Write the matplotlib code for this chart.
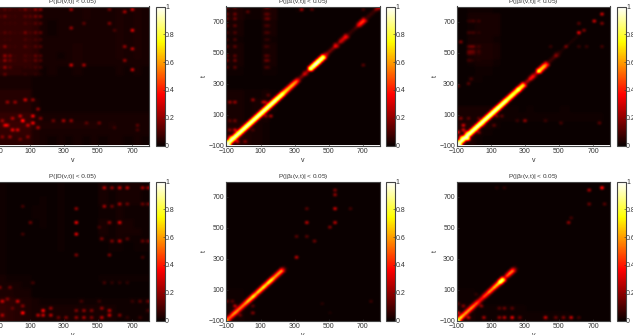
import matplotlib
matplotlib.use("Agg")
import matplotlib.pyplot as plt
import numpy as np

plt.rcParams['font.family'] = ['Liberation Sans', 'DejaVu Sans']
plt.rcParams['mathtext.fontset'] = 'custom'
plt.rcParams['mathtext.rm'] = 'Liberation Sans'
plt.rcParams['mathtext.it'] = 'Liberation Sans'

titles = ["P(|D(v,t)| < 0.05)", "P(|\u03b2$_1$(v,t)| < 0.05)", "P(|\u03b2$_2$(v,t)| < 0.05)"]
axis_ticks = [-100, 100, 300, 500, 700]
bar_ticks = [0, 0.2, 0.4, 0.6, 0.8, 1]
bar_labels = ["0", "0.2", "0.4", "0.6", "0.8", "1"]

# diagonal cells, v = -100, -80, ... 780
diag_top_mid = [1, 1, 1, 1, 1, 1, 1, 1, 1, 1, 1, 1, 1, 1, 1, 1, .9, .85, .8, .75, .65, .25, .45, .3, .9, 1, 1, .9,
                .5, .3, .25, .5, .2, .4, .5, .15, .1, .15, .45, .55, .12, .1, .1, .3, .45]
side_top_mid = [.9, .9, .9, .9, .9, .9, .9, .9, .9, .9, .9, .9, .9, .9, .85, .8, .6, .55, .5, .45, .3,
                .05, .2, .05, .95, 1, 1, .95, .2, .05, .05, .3, .05, .2, .3, .03, .02, .03, .3, .35, .03, .03, .03,
                .12, .12]
diag_top_right = [1, 1, 1, 1, 1, 1, 1, 1, 1, 1, 1, 1, 1, 1, .95, .95, .9, .95, .85, .35, .35, .55, .3, .9, .75, .6,
                  .15, .12, .3, .1, .05, .05, .05, .05, .05, .03, 0, 0, 0, 0, 0, 0, 0, 0, 0]
side_top_right = [.9, .9, .9, .9, .9, .9, .9, .9, .9, .9, .9, .9, .85, .85, .75, .75, .7, .85, .65, .08,
                  .08, .2, .08, .75, .6, .45, .03, .03, .1, .02, 0, 0, 0, 0, 0, 0, 0, 0, 0, 0, 0, 0, 0, 0, 0]
diag_low_mid = [.7, .75, .8, .75, .75, .8, .9, 1, .85, .95, 1, .9, 1, .85, .8, .8, .25]
side_low_mid = [.3, .35, .4, .35, .35, .4, .45, .5, .4, .45, .5, .45, .5, .4, .4, .4, .05]
diag_low_right = [1, .85, .85, .8, .75, .7, .55, .65, .65, .8, .9, .9, 1, .45, .7, .75, .25]
side_low_right = [.4, .35, .35, .35, .3, .3, .2, .3, .3, .35, .4, .45, .8, .15, .3, .35, .05]

# coarse background, one row per 50 t from 800 down, one digit per 50 v (digit * 0.01)
back_top_left = ["666652222232223232", "666652222232223232", "666652122222223232", "666652122222223232",
                 "666652222222223232", "666652222322223232", "666652212322223232", "666652222322222222",
                 "555441211211112121", "222211111111111111", "222211111111111111", "444411111111111111",
                 "444421111111111111", "444421111111111111", "666632222222222222", "777743333333232222",
                 "666632222222222222", "555532121212122121"]
back_top_mid = ["331133001000000000", "331133000000000000", "220022000000000000", "220022000000000000",
                "110011000000000000", "220022000000000000", "220022000000000000", "220022000000000000",
                "110011000000000000", "000000000000000000", "000000000000000000", "221121000000000000",
                "221221000000000000", "221221000000000000", "221220000000000000", "333210000000000000",
                "443210000000000000", "443210000000000000"]
back_top_right = ["011100000000000000", "022220000000000000", "012220000000000000", "012220000000000000",
                  "022210000000000000", "023320000000000000", "023320000000000000", "012210000000000000",
                  "001100000000000000", "011000000000000000", "000000000000000000", "000000000000000000",
                  "000000000000000000", "222221101000100000", "222211111111111110", "332210000000000000",
                  "442100000000000000", "331000000000000000"]
back_low_left = ["100000010000212221", "100000010000212221", "100001010000212221", "100011010000112111",
                 "100011010000112111", "100001010000212211", "100000010000212221", "100000010000112111",
                 "100000010000011011", "100000000000000000", "100000000000000000", "100000000000000000",
                 "211100000000111111", "222100000000000000", "332200000000000000", "554321111111111111",
                 "654322222222221111", "654322222222221111"]
back_low_mid = ["000000000000000000"] * 14 + ["110000000000000000", "110000000000000000", "221000000000000000",
                                             "221000000000000000"]
back_low_right = ["000000000000000000"] * 14 + ["110000000000000000", "110000000000000000", "221111110000000000",
                                               "221111111111100000"]

# streak tables: strength at every crossing of a v column and a t row (digit * 0.04)
streak_top_left_v = [-80, -47, -20, 10, 40, 71, 100, 130, 155]
streak_top_left_t = [780, 725, 680, 627, 580, 530, 480, 440, 400, 360]
streak_top_left = ["243236388", "352214466", "122213244", "243226355", "122113233",
                   "272214244", "186213254", "285213254", "284112233", "151102121"]
streak_top_mid_v = [-86, -51, 125, 151]
streak_top_mid_t = [790, 750, 710, 670, 630, 580, 530, 480, 440, 400]
streak_top_mid = ["6666", "5644", "5645", "4533", "3433", "3422", "4532", "5543", "6654", "4533"]
streak_top_right_v = [-37, -17, 2, 31]
streak_top_right_t = [696, 627, 530, 509, 487, 444]
streak_top_right = ["2233", "3232", "4553", "4443", "4332", "3211"]

# single cells
spot_top_left_v = [345, 570, 570, 655, 708, 708, 345, 653, 704, 345, 414, 653, 704, 414, 590,
                   61, 120, 110, 2, 32, -47, -27, 71, 12, -27, 120, 140, 169, 2, 42, 91, 140, -66, -17, -66, 42, 91,
                   238, 296, 336, 434, 502, 590, 728, 737]
spot_top_left_t = [780, 780, 692, 768, 780, 638, 653, 530, 520, 411, 422, 444, 386, 690, 640,
                   55, 88, 49, -9, -9, 23, 27, 185, 174, 174, 196, 130, 77, 77, 88, 23, 12, 55, -52, -52, -63, -52,
                   55, 62, 55, 49, 49, 12, 34, -9]
spot_top_left_p = [.4, .25, .3, .4, .5, .55, .35, .35, .45, .5, .4, .35, .5, .2, .15,
                   .75, .6, .6, .55, .5, .5, .45, .5, .35, .35, .35, .35, .3, .4, .45, .45, .4, .35, .35, .3, .25, .3,
                   .25, .4, .35, .2, .25, .12, .2, .15]

spot_top_mid_v = [33, 341, 400, 708, 708, -84, -51, 53, 112, 135, 151, 155, 125, 116, -80, -41, -12, 18, -41, -31,
                  -71, 18, 57, -80, -51]
spot_top_mid_t = [768, 778, 778, 412, 778, 178, 178, 185, 174, 178, 217, 88, 88, 120, -9, 1, -31, -9, -63, -85,
                  -42, -74, -9, 55, 55]
spot_top_mid_p = [.2, .4, .2, .2, .15, .35, .35, .35, .4, .35, .2, .4, .3, .25, .3, .5, .6, .3, .5, .5,
                  .4, .3, .15, .2, .25]

spot_top_right_v = [613, 649, 708, 753, 753, 606, 535, 453, 610, 659, 747, -76, -86, -37, -17,
                    296, 247, 423, 502, 727, 31, 80, 129, 159, 110, 61, -76, -37, -67, -86, -47, -76, -27, -57, 27]
spot_top_right_t = [621, 649, 703, 746, 692, 681, 530, 535, 535, 535, 535, 567, 282, 304, 325,
                    62, 62, 55, 49, 45, 77, 77, 83, 83, 34, 23, 66, 66, 23, -20, -20, -52, -63, -9, -16]
spot_top_right_p = [.6, .3, .5, .5, .3, .2, .3, .12, .12, .12, .15, .3, .2, .2, .15,
                    .35, .12, .12, .15, .2, .2, .25, .25, .2, .2, .15, .3, .2, .5, .5, .4, .6, .9, .5, .3]

spot_low_left_v = [371, 371, 371, 371, 100, 51, 61,
                   532, 581, 626, 673, 757, 790, 532, 581, 626, 673, 757, 786, 567, 626, 508, 528, 577, 626, 673,
                   757, 786, 571, 757, 532, 581, 630, 679,
                   -66, -27, 22, -76, -17, 110, 61, 51, -66, 2, 183, 228, 149, 183, 218, 267, 316, 365, 365, 414,
                   414, 463, 469, 522, 522, 571, 571, 620, 404, 502, 698, 747, 786, 669, 747, 786]
spot_low_left_t = [537, 455, 632, 321, 541, 638, 465,
                   761, 761, 761, 761, 761, 761, 649, 649, 653, 653, 660, 660, 541, 541, 513, 429, 422, 422, 429,
                   416, 416, 330, 314, 148, 148, 148, 148,
                   27, 40, 34, 120, 120, 152, -48, -9, -63, -20, -26, -24, -70, -70, -70, -74, -74, -31, -74, -35,
                   -74, -35, -74, -24, -74, -35, -70, -70, 23, 27, 23, 23, 23, -74, -74, -35]
spot_low_left_p = [.6, .55, .35, .3, .25, .15, .15,
                   .45, .35, .5, .45, .4, .3, .4, .25, .4, .25, .25, .2, .35, .55, .15, .3, .3, .45, .2,
                   .25, .2, .3, .15, .15, .1, .1, .1,
                   .5, .3, .5, .3, .25, .15, .7, .3, .4, .2, .65, .35, .45, .5, .45, .25, .3, .3, .35, .35,
                   .4, .3, .3, .35, .45, .45, .5, .3, .15, .12, .12, .2, .2, .1, .12, .12]

spot_low_mid_v = [316, 370, 370, 370, 316, 414, 531, 531, 531, 531, 508, 625, -51, -61, -90, -61, 53, 53, -12, -37,
                  749, 459, 508]
spot_low_mid_t = [314, 530, 632, 444, 440, 412, 627, 724, 752, 530, 509, 634, -9, -42, 27, 27, -9, -52, -63, -52,
                  23, 12, -42]
spot_low_mid_p = [.45, .45, .2, .2, .2, .25, .5, .35, .3, .45, .3, .15, .45, .4, .2, .2, .2, .3, .25, .2,
                  .12, .08, .05]

spot_low_right_v = [-86, -57, -27, 51, 47, 12, -96, 153, 153, 184, 184, 217, 217, 267, 414, 482, 521, 570, 619,
                    672, 753, 672, 757, 545, 561, 178, 129]
spot_low_right_t = [-42, -9, -74, -74, -9, 66, 12, -20, -74, -20, -74, -20, -74, -74, -74, -74, -74, -74, -74,
                    752, 757, 660, 660, 541, 563, 757, 757]
spot_low_right_p = [.5, .3, .5, .4, .35, .1, .15, .2, .35, .25, .45, .2, .6, .25, .5, .25, .3, .5, .15,
                    .4, .7, .25, .2, .35, .15, .1, .08]

CELL = 15
N = 60


def cell(x):
    return min(N - 1, max(0, (x + 100) // CELL))


def makeGrid(back, spotV, spotT, spotP, diag=None, side=None, streak=None):
    grid = np.zeros((N, N))
    # background rows are listed from the top of the plot
    for y in range(N):
        row = back[17 - y * 18 // N]
        for x in range(N):
            grid[y, x] = int(row[x * 18 // N]) * 0.01
    if streak is not None:
        sv, st, table = streak
        for t, row in zip(st, table):
            for v, ch in zip(sv, row):
                grid[cell(t), cell(v)] = max(grid[cell(t), cell(v)], int(ch) * 0.04)
    for v, t, p in zip(spotV, spotT, spotP):
        grid[cell(t), cell(v)] = max(grid[cell(t), cell(v)], p)
    # the diagonal tables are listed every 20 in v
    if diag is not None:
        for i in range(N):
            k = i * CELL // 20
            if k < len(diag):
                grid[i, i] = max(grid[i, i], diag[k])
                if i + 1 < N:
                    grid[i + 1, i] = max(grid[i + 1, i], side[k])
                    grid[i, i + 1] = max(grid[i, i + 1], side[k])
    return grid


grids = [
    [makeGrid(back_top_left, spot_top_left_v, spot_top_left_t, spot_top_left_p,
              streak=(streak_top_left_v, streak_top_left_t, streak_top_left)),
     makeGrid(back_top_mid, spot_top_mid_v, spot_top_mid_t, spot_top_mid_p, diag_top_mid, side_top_mid,
              (streak_top_mid_v, streak_top_mid_t, streak_top_mid)),
     makeGrid(back_top_right, spot_top_right_v, spot_top_right_t, spot_top_right_p, diag_top_right, side_top_right,
              (streak_top_right_v, streak_top_right_t, streak_top_right))],
    [makeGrid(back_low_left, spot_low_left_v, spot_low_left_t, spot_low_left_p),
     makeGrid(back_low_mid, spot_low_mid_v, spot_low_mid_t, spot_low_mid_p, diag_low_mid, side_low_mid),
     makeGrid(back_low_right, spot_low_right_v, spot_low_right_t, spot_low_right_p, diag_low_right, side_low_right)],
]

W, H = 633, 335
fig = plt.figure(figsize=(W / 100, H / 100), dpi=100)

lefts = [-4, 226.5, 457]
tops = [6.5, 181.5]
size_x, size_y = 153, 139
text_col = "#333333"

for r in range(2):
    for c in range(3):
        ax = fig.add_axes([lefts[c] / W, 1 - (tops[r] + size_y) / H, size_x / W, size_y / H])
        im = ax.imshow(grids[r][c], extent=[-100, 800, -100, 800], origin="lower", cmap="hot", vmin=0, vmax=1,
                       aspect="auto", interpolation="bicubic", interpolation_stage="data")
        ax.set_xticks(axis_ticks)
        ax.set_yticks(axis_ticks)
        ax.tick_params(labelsize=5, length=1.5, width=0.4, pad=1.5, direction="in", colors=text_col)
        ax.set_xlabel("v", fontsize=5, labelpad=1.5, color=text_col)
        ax.set_ylabel("t", fontsize=5, labelpad=0.5, color=text_col)
        ax.set_title(titles[c], fontsize=4.6, pad=2.5, color=text_col)
        for s in ax.spines.values():
            s.set_linewidth(0.8)
            s.set_color("#444444")

        cax = fig.add_axes([(lefts[c] + 159.5) / W, 1 - (tops[r] + size_y) / H, 9 / W, size_y / H])
        cb = fig.colorbar(im, cax=cax, ticks=bar_ticks)
        cb.ax.set_yticklabels(bar_labels)
        cb.ax.tick_params(labelsize=5, length=1.5, width=0.4, pad=0.5, direction="in", colors=text_col)
        cb.outline.set_linewidth(0.8)
        cb.outline.set_edgecolor("#444444")

fig.savefig("out.png", dpi=100)
